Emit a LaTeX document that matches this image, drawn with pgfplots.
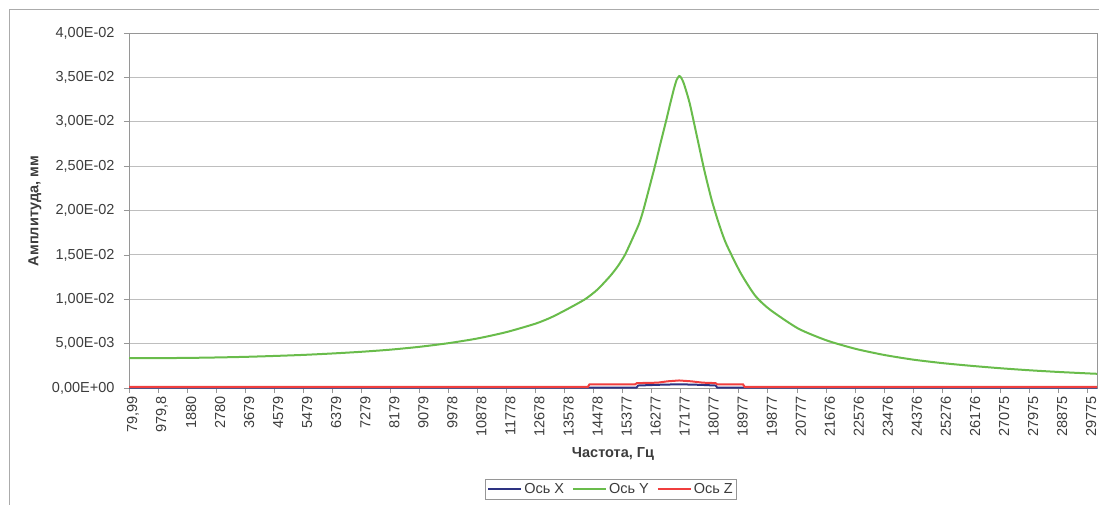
\documentclass[border=0pt]{standalone}
\usepackage{fontspec}
\setmainfont{Liberation Sans}
\usepackage{pgfplots}
\pgfplotsset{compat=1.18}
\definecolor{cX}{RGB}{45,50,130}
\definecolor{cY}{RGB}{105,188,75}
\definecolor{cZ}{RGB}{240,62,62}
\definecolor{gridc}{RGB}{190,190,190}
\definecolor{axc}{RGB}{150,150,150}
\definecolor{txt}{RGB}{60,60,60}
\begin{document}
\begin{tikzpicture}
\path[use as bounding box] (0pt,0pt) rectangle (1099pt,504pt);
\clip (0pt,0pt) rectangle (1099pt,504pt);
\draw[axc!80, line width=1pt] (9pt,-5pt) -- (9pt,494pt) -- (1105pt,494pt);
\begin{axis}[
  at={(129pt,116pt)}, anchor=south west,
  scale only axis, width=968pt, height=355pt,
  xmin=79.99, xmax=30080, ymin=0, ymax=0.04,
  clip=false,
  font=\fontsize{14.5}{16}\selectfont,
  axis line style={axc, line width=0.9pt},
  tick style={axc, line width=0.6pt},
  tick align=outside, tick pos=left,
  major tick length=5pt, minor tick length=4pt,
  ytick={0,0.005,0.01,0.015,0.02,0.025,0.03,0.035,0.04},
  yticklabels={{0,00E+00},{5,00E-03},{1,00E-02},{1,50E-02},{2,00E-02},{2,50E-02},{3,00E-02},{3,50E-02},{4,00E-02}},
  scaled y ticks=false, scaled x ticks=false,
  ymajorgrids, major grid style={gridc, line width=0.9pt},
  xtick={79.99,979.8,1880,2780,3679,4579,5479,6379,7279,8179,9079,9978,10878,11778,12678,13578,14478,15377,16277,17177,18077,18977,19877,20777,21676,22576,23476,24376,25276,26176,27075,27975,28875,29775},
  xticklabels={{79,99},{979,8},1880,2780,3679,4579,5479,6379,7279,8179,9079,9978,10878,11778,12678,13578,14478,15377,16277,17177,18077,18977,19877,20777,21676,22576,23476,24376,25276,26176,27075,27975,28875,29775},
  minor x tick num=14,
  xticklabel style={rotate=90, anchor=east, yshift=-4pt, text=txt},
  yticklabel style={xshift=-6pt, text=txt},
  xlabel={\textbf{Частота, Гц}},
  ylabel={\textbf{Амплитуда, мм}},
  xlabel style={at={(axis description cs:0.5,-0.186)}, anchor=center, text=txt},
  ylabel style={at={(axis description cs:-0.0971,0.4986)}, anchor=center, text=txt},
  legend columns=3,
  legend style={at={(axis description cs:0.498,-0.2563)}, anchor=north, draw=axc, line width=0.8pt,
    font=\fontsize{14.5}{16}\selectfont, text=txt, inner sep=2pt,
    /tikz/every even column/.append style={column sep=6pt}},
  legend image code/.code={\draw[#1] (0pt,0pt) -- (33pt,0pt);},
]
\addplot[cX, line width=2pt] coordinates {
(79.99,0.00005) (15810,0.00005) (15860,0.00028) (16460,0.00036) (17130,0.00042) (17760,0.00036) (18260,0.00028) (18310,0.00005) (30080,0.00005)
};
\addlegendentry{Ось X}
\addplot[cY, line width=2pt, smooth, tension=0.4] coordinates {
(79.99,0.00337) (979.8,0.00337) (1880,0.00339) (2780,0.00344) (3679,0.00351) (4579,0.00361) (5479,0.00373) (6379,0.00389) (7279,0.00408) (8179,0.00432) (9079,0.00464) (9978,0.00505) (10878,0.00558) (11778,0.00630) (12678,0.00725) (13160,0.00795) (13620,0.00880) (14213,0.01000) (14600,0.01110) (14988,0.01260) (15225,0.01370) (15450,0.01500) (15680,0.01680) (15887,0.01850) (16017,0.02000) (16200,0.02250) (16379,0.02500) (16560,0.02770) (16719,0.03000) (16850,0.03200) (16960,0.03360) (17050,0.03470) (17130,0.03515) (17185,0.03500) (17250,0.03455) (17320,0.03380) (17462,0.03200) (17687,0.02825) (17912,0.02450) (18137,0.02120) (18362,0.01850) (18587,0.01625) (19037,0.01295) (19487,0.01040) (19937,0.00885) (20820,0.00670) (21710,0.00535) (22600,0.00441) (23490,0.00372) (24376,0.00320) (25276,0.00281) (26176,0.00250) (27075,0.00223) (27975,0.00200) (28875,0.00181) (29775,0.00165) (30080,0.00160)
};
\addlegendentry{Ось Y}
\addplot[cZ, line width=2pt] coordinates {
(79.99,0.00012) (14300,0.00012) (14350,0.0004) (15760,0.0004) (15820,0.00055) (16460,0.0006) (16760,0.00075) (17130,0.00085) (17510,0.00075) (17860,0.0006) (18260,0.00055) (18310,0.0004) (19110,0.0004) (19160,0.00012) (30080,0.00012)
};
\addlegendentry{Ось Z}
\end{axis}
\end{tikzpicture}
\end{document}
